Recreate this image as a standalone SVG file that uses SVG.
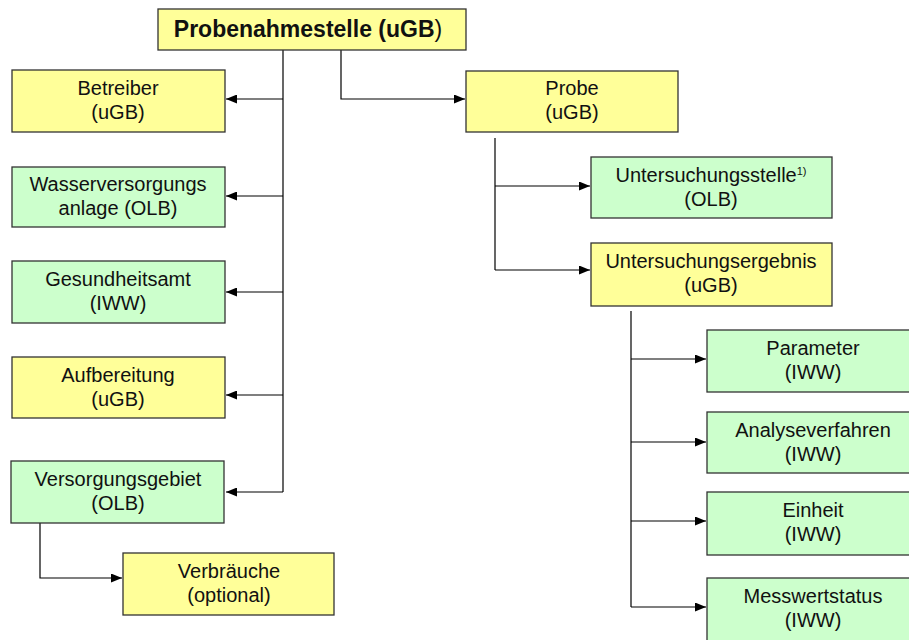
<svg xmlns="http://www.w3.org/2000/svg" width="909" height="640" viewBox="0 0 909 640">
<defs>
<marker id="ah" markerWidth="11" markerHeight="9" refX="11" refY="4.5" orient="auto" markerUnits="userSpaceOnUse">
<path d="M0,0 L11,4.5 L0,9 Z" fill="#000"/>
</marker>
<style>
.y{fill:#FFFF99;stroke:#333;stroke-width:1.3}
.g{fill:#CCFFCC;stroke:#333;stroke-width:1.3}
text{font-family:"Liberation Sans",Arial,sans-serif;font-size:20px;fill:#111;text-anchor:middle}
.t{font-size:23px;font-weight:bold}
.c{fill:none;stroke:#000;stroke-width:1.2}
.a{marker-end:url(#ah)}
</style>
</defs>
<rect width="909" height="640" fill="#fff"/>
<g id="connectors">
<path class="c" d="M283,50 V492"/>
<path class="c a" d="M283,99 H226"/>
<path class="c a" d="M283,196 H226"/>
<path class="c a" d="M283,292 H226"/>
<path class="c a" d="M283,395 H226"/>
<path class="c a" d="M283,492 H226"/>
<path class="c a" d="M341,50 V99 H465"/>
<path class="c" d="M495,138 V270"/>
<path class="c a" d="M495,186 H590"/>
<path class="c a" d="M495,270 H590"/>
<path class="c" d="M631,311 V607"/>
<path class="c a" d="M631,359 H706"/>
<path class="c a" d="M631,442 H706"/>
<path class="c a" d="M631,521 H706"/>
<path class="c a" d="M631,607 H706"/>
<path class="c a" d="M40,523 V578 H122"/>
</g>
<g id="probenahmestelle">
<rect class="y" x="158" y="9" width="308" height="41"/>
<text class="t" x="308" y="37">Probenahmestelle (uGB<tspan font-weight="normal">)</tspan></text>
</g>
<g id="betreiber">
<rect class="y" x="12" y="70" width="213" height="62"/>
<text x="118" y="95">Betreiber</text><text x="118" y="119">(uGB)</text>
</g>
<g id="wasserversorgungsanlage">
<rect class="g" x="12" y="167" width="213" height="60"/>
<text x="118" y="191">Wasserversorgungs</text><text x="118" y="215">anlage (OLB)</text>
</g>
<g id="gesundheitsamt">
<rect class="g" x="12" y="261" width="213" height="62"/>
<text x="118" y="286">Gesundheitsamt</text><text x="118" y="310">(IWW)</text>
</g>
<g id="aufbereitung">
<rect class="y" x="12" y="357" width="213" height="61"/>
<text x="118" y="382">Aufbereitung</text><text x="118" y="406">(uGB)</text>
</g>
<g id="versorgungsgebiet">
<rect class="g" x="11" y="461" width="213" height="62"/>
<text x="118" y="486">Versorgungsgebiet</text><text x="118" y="510">(OLB)</text>
</g>
<g id="verbraeuche">
<rect class="y" x="123" y="553" width="211" height="62"/>
<text x="229" y="578">Verbräuche</text><text x="229" y="602">(optional)</text>
</g>
<g id="probe">
<rect class="y" x="466" y="71" width="212" height="61"/>
<text x="572" y="95">Probe</text><text x="572" y="119">(uGB)</text>
</g>
<g id="untersuchungsstelle">
<rect class="g" x="591" y="157" width="241" height="61"/>
<text x="711" y="182">Untersuchungsstelle<tspan font-size="11" dy="-7">1)</tspan></text><text x="711" y="206">(OLB)</text>
</g>
<g id="untersuchungsergebnis">
<rect class="y" x="591" y="243" width="241" height="63"/>
<text x="711" y="268">Untersuchungsergebnis</text><text x="711" y="292">(uGB)</text>
</g>
<g id="parameter">
<rect class="g" x="707" y="330" width="212" height="62"/>
<text x="813" y="355">Parameter</text><text x="813" y="379">(IWW)</text>
</g>
<g id="analyseverfahren">
<rect class="g" x="707" y="412" width="212" height="61"/>
<text x="813" y="437">Analyseverfahren</text><text x="813" y="461">(IWW)</text>
</g>
<g id="einheit">
<rect class="g" x="707" y="492" width="212" height="63"/>
<text x="813" y="517">Einheit</text><text x="813" y="541">(IWW)</text>
</g>
<g id="messwertstatus">
<rect class="g" x="707" y="578" width="212" height="70"/>
<text x="813" y="603">Messwertstatus</text><text x="813" y="627">(IWW)</text>
</g>
</svg>
